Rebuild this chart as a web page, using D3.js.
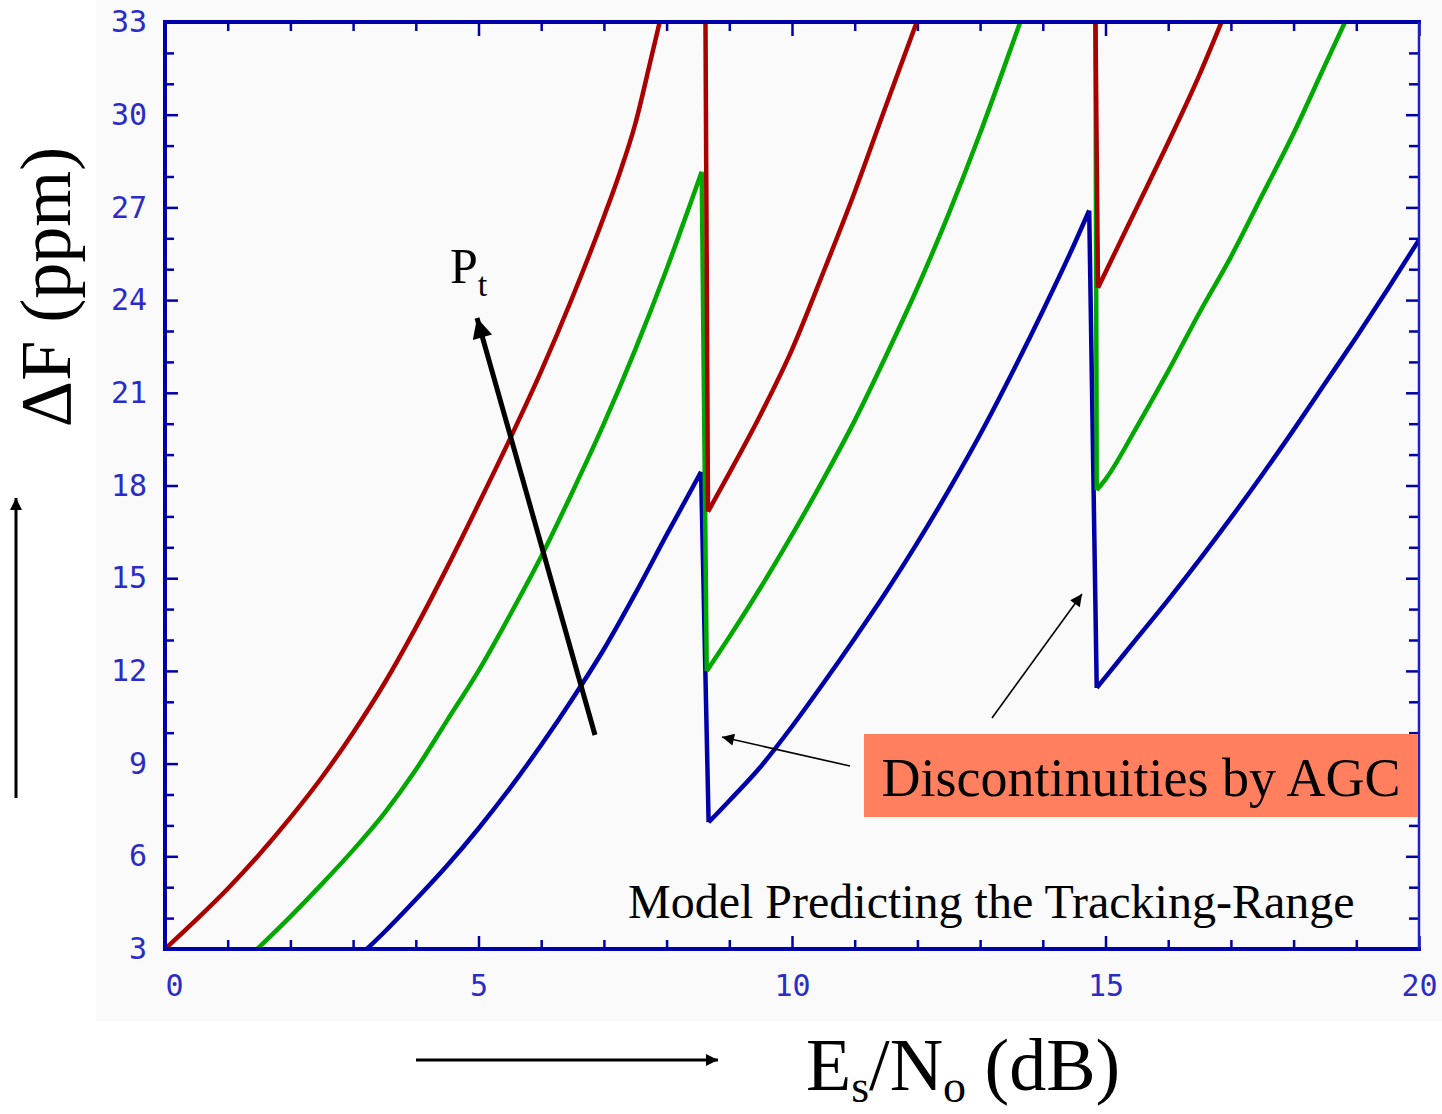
<!DOCTYPE html>
<html>
  <head>
    <meta http-equiv="Content-Type" content="text/html;charset=utf-8"/>
    <title>Tracking range</title>
    <script src="https://cdn.jsdelivr.net/npm/d3@7"></script>
    <style>
      body { margin: 0; background: #fff; }
      .serif { font-family: "Liberation Serif", "Times New Roman", serif; fill: #000; }
      .tick text { font-family: "DejaVu Sans Mono", monospace; fill: #2b2bc8; }
    </style>
  </head>
  <body>
    <svg id="target"></svg>
  </body>
  <script>
    // x = Es/No (dB), y = deltaF (ppm); null = the curve leaves the plot (above 33)
    var redPts = [ [0,3],[0.5,3.95],[1,4.95],[1.5,6.05],[2,7.25],[2.5,8.55],[3,10.0],[3.5,11.6],[4,13.4],
                   [4.5,15.35],[5,17.4],[5.5,19.5],[6,21.7],[6.5,24.1],[7,26.7],[7.25,28.1],[7.5,29.7],[7.75,31.8],[7.89,33], null,
                   [8.62,33],[8.66,17.15],[9,18.4],[9.5,20.3],[10,22.4],[10.5,24.9],[11,27.5],[11.5,30.3],[11.99,33], null,
                   [14.84,33],[14.88,24.4],[15,24.9],[15.5,27.0],[16,29.1],[16.5,31.3],[16.85,33] ];
    var greenPts = [ [1.47,3],[2,4.05],[2.5,5.1],[3,6.2],[3.5,7.4],[4,8.8],[4.5,10.4],[5,12.0],[5.5,13.8],
                     [6,15.7],[6.5,17.8],[7,20.0],[7.5,22.4],[8,25.0],[8.4,27.24],[8.56,28.15],
                     [8.64,12.0],[9,13.1],[9.5,14.7],[10,16.4],[10.5,18.2],[11,20.1],[11.5,22.2],[12,24.4],
                     [12.5,26.8],[13,29.4],[13.5,32.2],[13.64,33], null,
                     [14.84,33],[14.86,17.85],[15,18.2],[15.5,19.9],[16,21.7],[16.5,23.6],[17,25.4],[17.5,27.4],
                     [18,29.4],[18.5,31.6],[18.82,33] ];
    var bluePts = [ [3.22,3],[3.5,3.55],[4,4.6],[4.5,5.7],[5,6.9],[5.5,8.2],[6,9.6],[6.5,11.1],[7,12.7],
                    [7.5,14.5],[8,16.4],[8.55,18.44],[8.67,7.1],[9,7.8],[9.5,8.9],[10,10.2],[10.5,11.6],
                    [11,13.05],[11.5,14.55],[12,16.15],[12.5,17.85],[13,19.65],[13.5,21.6],[14,23.65],[14.5,25.8],
                    [14.74,26.9],[14.86,11.45],[15,11.8],[15.5,13.05],[16,14.3],[16.5,15.6],[17,16.95],[17.5,18.35],
                    [18,19.8],[18.5,21.3],[19,22.8],[19.5,24.35],[20,25.95] ];
    var series = [ { pts: bluePts, color: "#0000a8" }, { pts: greenPts, color: "#00a800" }, { pts: redPts, color: "#aa0000" } ];
    var xMajor = [0, 5, 10, 15, 20];
    var yMajor = [3, 6, 9, 12, 15, 18, 21, 24, 27, 30, 33];

    var width = 1442, height = 1114;
    var axisColor = "#0000a8";
    var svg = d3.select( "#target" ).attr( "width", width ).attr( "height", height );
    var xScale = d3.scaleLinear().domain( [0, 20] ).range( [165, 1419] );
    var yScale = d3.scaleLinear().domain( [3, 33] ).range( [949, 22] );

    // grey panel behind the plot
    svg.append( "rect" ).attr( "x", 96 ).attr( "y", 0 ).attr( "width", width - 96 ).attr( "height", 1021 ).attr( "fill", "#fafafa" );

    var defs = svg.append( "defs" );
    defs.append( "clipPath" ).attr( "id", "plot" ).append( "rect" )
      .attr( "x", 165 ).attr( "y", 22 ).attr( "width", 1254 ).attr( "height", 927 );
    function marker( id, w, l ) {
      defs.append( "marker" ).attr( "id", id ).attr( "markerUnits", "userSpaceOnUse" )
        .attr( "viewBox", "0 -10 20 20" ).attr( "refX", 20 ).attr( "refY", 0 )
        .attr( "markerWidth", l ).attr( "markerHeight", w ).attr( "orient", "auto" )
        .append( "path" ).attr( "d", "M0,-10L20,0L0,10Z" ).attr( "fill", "#000" );
    }
    marker( "headS", 12, 18 );
    marker( "headL", 20, 26 );

    // axes: minor ticks every unit, major ticks with labels
    function axes( gen, ticks, size, labels, pad, tr ) {
      var a = gen.tickValues( ticks ).tickSizeInner( size ).tickSizeOuter( 0 ).tickPadding( pad );
      if ( !labels ) a.tickFormat( "" );
      var g = svg.append( "g" ).attr( "transform", tr ).call( a );
      g.select( ".domain" ).remove();
      g.selectAll( "line" ).attr( "stroke", axisColor ).attr( "stroke-width", 2.5 );
      g.selectAll( "text" ).attr( "font-size", 30 );
      return g;
    }
    var xMinor = d3.range( 0, 21 ).filter( d => d % 5 );
    var yMinor = d3.range( 3, 34 ).filter( d => d % 3 );
    axes( d3.axisBottom( xScale ), xMinor, -9, false, 0, "translate(0,949)" );
    axes( d3.axisBottom( xScale ), xMajor, -13, true, 26, "translate(0,949)" )
      .selectAll( "text" ).attr( "dx", d => d === 0 ? 9 : 0 );
    axes( d3.axisTop( xScale ), xMinor, -9, false, 0, "translate(0,22)" );
    axes( d3.axisTop( xScale ), xMajor, -14, false, 0, "translate(0,22)" );
    axes( d3.axisLeft( yScale ), yMinor, -9, false, 0, "translate(165,0)" );
    axes( d3.axisLeft( yScale ), yMajor, -13, true, 18, "translate(165,0)" );
    axes( d3.axisRight( yScale ), yMinor, -10, false, 0, "translate(1419,0)" );
    axes( d3.axisRight( yScale ), yMajor, -13, false, 0, "translate(1419,0)" );

    // curves: smooth rising runs, straight AGC drops between them
    function split( pts ) {
      var runs = [], drops = [], cur = [];
      pts.forEach( function ( p ) {
        if ( p === null ) { if ( cur.length ) runs.push( cur ); cur = []; return; }
        var last = cur[cur.length - 1];
        if ( last && p[1] < last[1] ) { runs.push( cur ); drops.push( [last, p] ); cur = [p]; }
        else cur.push( p );
      } );
      if ( cur.length ) runs.push( cur );
      return runs.map( r => smooth( r ) ).concat( drops.map( d => straight( d ) ) ).join( "" );
    }
    var smooth = d3.line().curve( d3.curveMonotoneX ).x( d => xScale( d[0] ) ).y( d => yScale( d[1] ) );
    var straight = d3.line().x( d => xScale( d[0] ) ).y( d => yScale( d[1] ) );
    svg.append( "g" ).attr( "clip-path", "url(#plot)" ).selectAll( "path" ).data( series )
      .enter().append( "path" )
        .attr( "d", d => split( d.pts ) )
        .attr( "fill", "none" )
        .attr( "stroke", d => d.color )
        .attr( "stroke-width", 4.5 )
        .attr( "stroke-linejoin", "round" );

    // frame
    svg.append( "path" ).attr( "d", "M1419,22H165V949H1419" ).attr( "fill", "none" )
      .attr( "stroke", axisColor ).attr( "stroke-width", 4 ).attr( "stroke-linecap", "square" );
    svg.append( "line" ).attr( "x1", 1419 ).attr( "x2", 1419 ).attr( "y1", 22 ).attr( "y2", 949 )
      .attr( "stroke", "#2020c0" ).attr( "stroke-width", 2.5 );

    // annotations
    svg.append( "text" ).attr( "class", "serif" ).attr( "font-size", 48 )
      .attr( "x", 628 ).attr( "y", 918 ).text( "Model Predicting the Tracking-Range" );

    svg.append( "rect" ).attr( "x", 864 ).attr( "y", 734 ).attr( "width", 554 ).attr( "height", 83 ).attr( "fill", "#ff7f5f" );
    svg.append( "text" ).attr( "class", "serif" ).attr( "font-size", 54 ).attr( "text-anchor", "middle" )
      .attr( "x", 1141 ).attr( "y", 796 ).text( "Discontinuities by AGC" );

    svg.append( "line" ).attr( "x1", 850 ).attr( "y1", 766 ).attr( "x2", 722 ).attr( "y2", 737 )
      .attr( "stroke", "#000" ).attr( "stroke-width", 1.6 ).attr( "marker-end", "url(#headS)" );
    svg.append( "line" ).attr( "x1", 992 ).attr( "y1", 718 ).attr( "x2", 1082 ).attr( "y2", 594 )
      .attr( "stroke", "#000" ).attr( "stroke-width", 1.6 ).attr( "marker-end", "url(#headS)" );

    svg.append( "line" ).attr( "x1", 595 ).attr( "y1", 735 ).attr( "x2", 477 ).attr( "y2", 318 )
      .attr( "stroke", "#000" ).attr( "stroke-width", 5 ).attr( "marker-end", "url(#headL)" );
    var pt = svg.append( "text" ).attr( "class", "serif" ).attr( "font-size", 50 ).attr( "x", 450 ).attr( "y", 283 );
    pt.append( "tspan" ).text( "P" );
    pt.append( "tspan" ).attr( "font-size", 34 ).attr( "dy", 13 ).text( "t" );

    // axis titles
    svg.append( "text" ).attr( "class", "serif" ).attr( "font-size", 72 )
      .attr( "transform", "translate(70,287) rotate(-90)" ).attr( "text-anchor", "middle" ).text( "ΔF (ppm)" );
    svg.append( "line" ).attr( "x1", 16 ).attr( "y1", 798 ).attr( "x2", 16 ).attr( "y2", 498 )
      .attr( "stroke", "#000" ).attr( "stroke-width", 3 ).attr( "marker-end", "url(#headS)" );

    var xt = svg.append( "text" ).attr( "class", "serif" ).attr( "font-size", 74 ).attr( "x", 806 ).attr( "y", 1090 );
    xt.append( "tspan" ).text( "E" );
    xt.append( "tspan" ).attr( "font-size", 46 ).attr( "dy", 12 ).text( "s" );
    xt.append( "tspan" ).attr( "dy", -12 ).text( "/N" );
    xt.append( "tspan" ).attr( "font-size", 46 ).attr( "dy", 12 ).text( "o" );
    xt.append( "tspan" ).attr( "dy", -12 ).text( " (dB)" );
    svg.append( "line" ).attr( "x1", 416 ).attr( "y1", 1060 ).attr( "x2", 718 ).attr( "y2", 1060 )
      .attr( "stroke", "#000" ).attr( "stroke-width", 3 ).attr( "marker-end", "url(#headS)" );
  </script>
</html>
